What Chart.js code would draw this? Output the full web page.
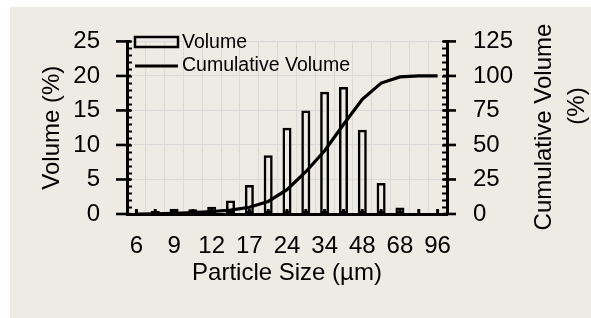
<!DOCTYPE html>
<html>
<head>
<meta charset="utf-8">
<script src="https://cdn.jsdelivr.net/npm/chart.js@4/dist/chart.umd.min.js"></script>
<style>
  html, body { margin: 0; padding: 0; background: #ffffff; }
  #c { display: block; }
</style>
</head>
<body>
<canvas id="c" width="591" height="318"></canvas>
<script>
// ---- data ----
const sizes = ["6", "7", "9", "10", "12", "14", "17", "20", "24", "28", "34", "40", "48", "57", "68", "81", "96"];
const volume = [0, 0.45, 0.75, 0.7, 1.05, 1.95, 4.2, 8.5, 12.5, 15.0, 17.7, 18.4, 12.2, 4.5, 0.95, 0, 0];
const cumulative = [0, 0.1, 0.5, 1.1, 1.8, 2.8, 4.9, 9.1, 17.6, 30.6, 45.8, 64.8, 83.0, 94.8, 99.3, 100, 100];
const volumeTicks = [0, 5, 10, 15, 20, 25];
const cumulativeTicks = [0, 25, 50, 75, 100, 125];
const xTitle = "Particle Size (µm)";
const yTitle = "Volume (%)";
const y2TitleLines = ["Cumulative Volume", "(%)"];
const volumeLabel = "Volume";
const cumulativeLabel = "Cumulative Volume";

const FONT = "'Liberation Sans', Arial, sans-serif";

const panelPlugin = {
  id: 'panel',
  beforeDraw(chart) {
    const ctx = chart.ctx;
    ctx.save();
    ctx.fillStyle = '#ffffff';
    ctx.fillRect(0, 0, chart.width, chart.height);
    ctx.fillStyle = '#EEEBE4';
    ctx.fillRect(10, 7, chart.width - 10, chart.height - 7);
    ctx.restore();
  }
};

const decorPlugin = {
  id: 'decor',
  afterDraw(chart) {
    const ctx = chart.ctx;
    const {left: L, right: R, bottom: B} = chart.chartArea;
    const y = chart.scales.y, y2 = chart.scales.y2, x = chart.scales.x;
    ctx.save();
    ctx.strokeStyle = '#000';
    ctx.fillStyle = '#000';
    const line = (x1, y1, x2, y2_) => { ctx.beginPath(); ctx.moveTo(x1, y1); ctx.lineTo(x2, y2_); ctx.stroke(); };
    // left minor ticks (every 1)
    ctx.lineWidth = 2;
    for (let v = y.min; v <= y.max + 1e-9; v += 1) {
      const py = Math.round(y.getPixelForValue(v)) + 0.5;
      line(L, py, L + 5, py);
    }
    // left major ticks (cross)
    ctx.lineWidth = 2.6;
    y.ticks.forEach(t => { const py = y.getPixelForValue(t.value); line(L - 11, py, L + 4, py); });
    // right minor ticks (every 5)
    ctx.lineWidth = 2;
    for (let v = y2.min; v <= y2.max + 1e-9; v += 5) {
      const py = Math.round(y2.getPixelForValue(v)) + 0.5;
      line(R - 5, py, R, py);
    }
    // right major ticks (cross)
    ctx.lineWidth = 2.6;
    y2.ticks.forEach(t => { const py = y2.getPixelForValue(t.value); line(R - 4, py, R + 9, py); });
    // x axis inside marks at category centres
    sizes.forEach((s, i) => {
      const px = x.getPixelForValue(i);
      ctx.fillRect(px - 1.5, B - 5, 3, 5);
    });

    // legend (inside plot, top-left)
    const bx = L + 8;
    ctx.lineWidth = 2.5;
    ctx.strokeRect(bx, 37, 43, 10);
    ctx.lineWidth = 3.2;
    line(bx, 66, bx + 43, 66);
    ctx.font = '19.5px ' + FONT;
    ctx.textBaseline = 'middle';
    ctx.textAlign = 'left';
    ctx.fillText(chart.data.datasets[1].label, bx + 47, 42.5);
    ctx.fillText(chart.data.datasets[0].label, bx + 47, 66);

    // right axis title (reads bottom to top)
    ctx.font = '24px ' + FONT;
    ctx.textAlign = 'center';
    ctx.save();
    ctx.translate(544, 127);
    ctx.rotate(-Math.PI / 2);
    ctx.fillText(y2TitleLines[0], 0, 0);
    ctx.restore();
    ctx.save();
    ctx.translate(577, 106);
    ctx.rotate(-Math.PI / 2);
    ctx.fillText(y2TitleLines[1], 0, 0);
    ctx.restore();
    ctx.restore();
  }
};

new Chart(document.getElementById('c'), {
  type: 'bar',
  data: {
    labels: sizes,
    datasets: [
      {
        type: 'line',
        label: cumulativeLabel,
        data: cumulative,
        yAxisID: 'y2',
        borderColor: '#000',
        borderWidth: 3.2,
        pointRadius: 0,
        tension: 0,
        fill: false,
        order: 1
      },
      {
        type: 'bar',
        label: volumeLabel,
        data: volume,
        yAxisID: 'y',
        backgroundColor: 'rgba(0,0,0,0)',
        borderColor: '#000',
        borderWidth: 2.5,
        borderSkipped: false,
        categoryPercentage: 1,
        barPercentage: 0.48,
        order: 2
      }
    ]
  },
  options: {
    responsive: false,
    devicePixelRatio: 1,
    animation: false,
    layout: { padding: { left: 0, right: 0, top: 33, bottom: 0 } },
    plugins: { legend: { display: false }, tooltip: { enabled: false } },
    font: { family: FONT },
    scales: {
      x: {
        type: 'category',
        offset: true,
        afterFit: s => { s.height = 104; },
        grid: { display: true, offset: true, color: '#D9D9D9', lineWidth: 1, drawTicks: false },
        border: { display: true, color: '#000', width: 3, z: 1 },
        ticks: {
          autoSkip: false,
          maxRotation: 0,
          padding: 18,
          color: '#000',
          font: { family: FONT, size: 24 },
          callback: function (v, i) { return i % 2 === 0 ? sizes[i] : ''; }
        },
        title: { display: true, text: xTitle, color: '#000', font: { family: FONT, size: 24 }, padding: { top: 0, bottom: 30 } }
      },
      y: {
        position: 'left',
        min: 0,
        max: 25,
        afterFit: s => { s.width = 127; },
        afterBuildTicks: s => { s.ticks = volumeTicks.map(v => ({ value: v })); },
        grid: { color: '#D9D9D9', lineWidth: 1, drawTicks: false },
        border: { display: true, color: '#000', width: 3, z: 1 },
        ticks: { padding: 27, color: '#000', font: { family: FONT, size: 24 } },
        title: { display: true, text: yTitle, color: '#000', font: { family: FONT, size: 24 }, padding: { top: 38, bottom: 0 } }
      },
      y2: {
        position: 'right',
        min: 0,
        max: 125,
        afterFit: s => { s.width = 144; },
        afterBuildTicks: s => { s.ticks = cumulativeTicks.map(v => ({ value: v })); },
        grid: { display: false, drawTicks: false },
        border: { display: true, color: '#000', width: 3, z: 1 },
        ticks: { padding: 26, color: '#000', font: { family: FONT, size: 24 } },
        title: { display: false }
      }
    }
  },
  plugins: [panelPlugin, decorPlugin]
});
</script>
</body>
</html>
